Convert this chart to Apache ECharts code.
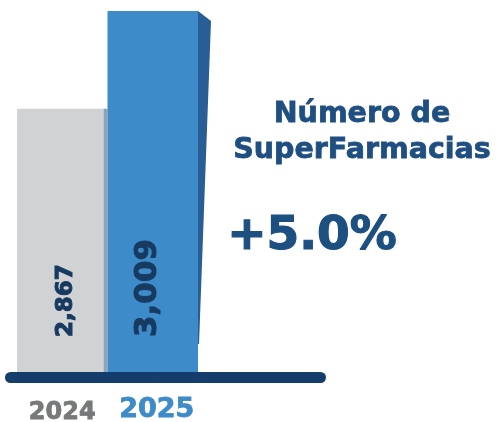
<!DOCTYPE html>
<html>
<head>
<meta charset="utf-8">
<script src="https://cdn.jsdelivr.net/npm/echarts@6/dist/echarts.min.js"></script>
<style>
  html, body { margin: 0; padding: 0; background: #fff; }
  #chart { width: 501px; height: 422px; }
</style>
</head>
<body>
<div id="chart"></div>
<script>
// Data
const years = ['2024', '2025'];
const stores = [2867, 3009];
const storeLabels = ['2,867', '3,009'];
const titleLines = ['Número de', 'SuperFarmacias'];
const growth = '+' + ((stores[1] / stores[0] - 1) * 100).toFixed(1) + '%';

const barColors = ['#d1d2d4', '#3d8bc9'];
const yMin = 2485;

const chartDom = document.getElementById('chart');
const myChart = echarts.init(chartDom);

function renderBar(params, api) {
  const idx = api.value(0);
  const val = api.value(1);
  const top = api.coord([idx, val]);
  const base = api.coord([idx, yMin]);
  const bandW = api.size([1, 0])[0];
  const left = top[0] - bandW / 2;
  const right = top[0] + bandW / 2;
  const cs = params.coordSys;
  const children = [];

  if (idx === 0) {
    children.push({
      type: 'rect',
      shape: { x: left, y: top[1], width: bandW - 4, height: base[1] - top[1] },
      style: { fill: barColors[0] }
    });
    children.push({
      type: 'rect',
      shape: { x: right - 4, y: top[1], width: 4, height: base[1] - top[1] },
      style: { fill: '#8fa4b6' }
    });
  } else {
    children.push({
      type: 'rect',
      shape: { x: left, y: top[1], width: bandW, height: base[1] - top[1] },
      style: { fill: barColors[1] }
    });
    // side face
    children.push({
      type: 'polygon',
      shape: { points: [[right, top[1]], [right + 13, top[1] + 10], [right + 1, base[1] - 28], [right, base[1] - 28]] },
      style: { fill: '#285d96' }
    });
  }

  // value label, rotated
  const lblColor = '#173a61';
  children.push({
    type: 'text',
    x: idx === 0 ? top[0] + 4 : top[0] - 5,
    y: base[1] - 35,
    rotation: Math.PI / 2,
    style: {
      text: storeLabels[idx],
      fill: lblColor,
      stroke: lblColor,
      lineWidth: 1,
      font: idx === 0 ? 'bold 23px "DejaVu Sans"' : 'bold 31px "DejaVu Sans"',
      align: 'left',
      verticalAlign: 'middle'
    }
  });

  // baseline
  if (idx === 0) {
    children.push({
      type: 'line',
      shape: { x1: cs.x - 6.5, y1: base[1] + 5.5, x2: cs.x + 303.5, y2: base[1] + 5.5 },
      style: { stroke: '#143d6c', lineWidth: 11, lineCap: 'round' },
      z2: 10
    });
  }

  return { type: 'group', children: children };
}

const option = {
  animation: false,
  grid: { left: 17, right: 303, top: 11, bottom: 50, outerBoundsMode: 'none' },
  xAxis: {
    type: 'category',
    data: years,
    axisLine: { show: false },
    axisTick: { show: false },
    axisLabel: {
      margin: 24,
      formatter: function (v, i) {
        return i === 0 ? '{a|' + v + '}' : '{b|' + v + '}';
      },
      rich: {
        a: { fontFamily: 'DejaVu Sans', fontWeight: 'bold', fontSize: 24, color: '#76787a', textBorderColor: '#76787a', textBorderWidth: 0.8, padding: [5, 0, 0, 0] },
        b: { fontFamily: 'DejaVu Sans', fontWeight: 'bold', fontSize: 27, color: '#3d8bc9', textBorderColor: '#3d8bc9', textBorderWidth: 0.8, padding: [0, 0, 0, 8] }
      }
    }
  },
  yAxis: {
    type: 'value',
    min: yMin,
    max: stores[1],
    show: false,
    splitLine: { show: false }
  },
  series: [
    {
      type: 'custom',
      renderItem: renderBar,
      data: years.map(function (y, i) { return [i, stores[i]]; })
    }
  ],
  graphic: [
    {
      type: 'text',
      x: 362,
      y: 97,
      style: {
        text: titleLines.join('\n'),
        fill: '#1f4f80',
        stroke: '#1f4f80',
        lineWidth: 0.8,
        font: 'bold 28.5px "DejaVu Sans"',
        align: 'center',
        lineHeight: 36
      }
    },
    {
      type: 'text',
      x: 312,
      y: 213,
      style: {
        text: growth,
        fill: '#1d4f80',
        stroke: '#1d4f80',
        lineWidth: 1.2,
        font: 'bold 47px "DejaVu Sans"',
        align: 'center'
      }
    }
  ]
};

myChart.setOption(option);

window.addEventListener('resize', () => {
  myChart.resize();
});
</script>
</body>
</html>
